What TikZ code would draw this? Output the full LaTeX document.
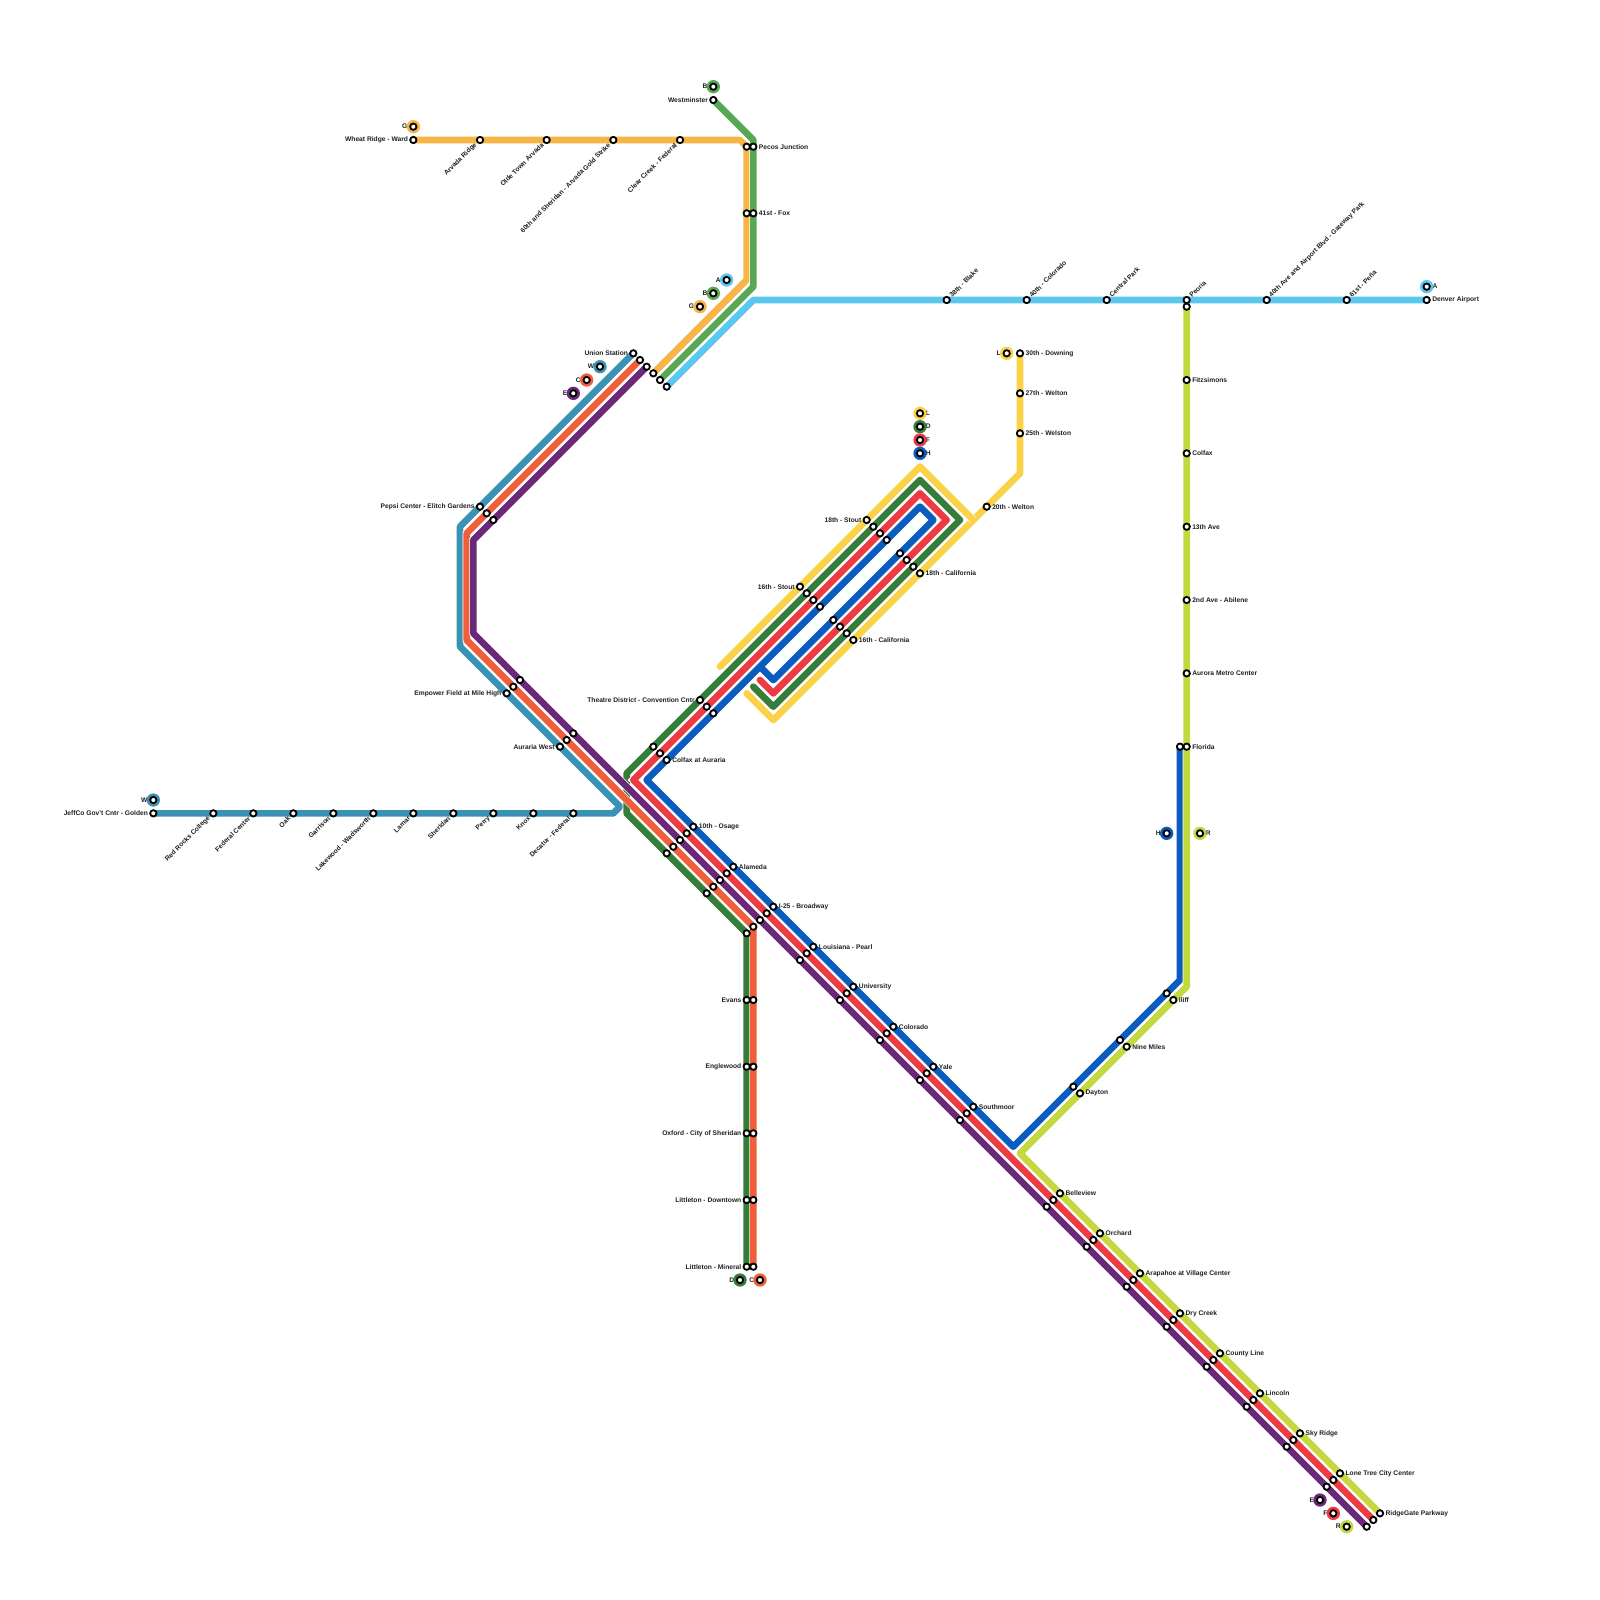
\documentclass[tikz,border=0pt]{standalone}
\usepackage{fontspec}
\setmainfont{Liberation Sans}
\usetikzlibrary{positioning,backgrounds}
\definecolor{lineW}{HTML}{3A93B5}
\definecolor{lineC}{HTML}{F15F3A}
\definecolor{lineE}{HTML}{6B2878}
\definecolor{lineG}{HTML}{F7B545}
\definecolor{lineB}{HTML}{57A853}
\definecolor{lineA}{HTML}{5AC8EE}
\definecolor{lineL}{HTML}{FBD145}
\definecolor{lineD}{HTML}{377D3A}
\definecolor{lineF}{HTML}{EE3B43}
\definecolor{lineH}{HTML}{0A5CBF}
\definecolor{lineR}{HTML}{C3D93D}
\tikzset{
  stn/.style={circle, draw=black, fill=white, line width=0.55mm, minimum size=1.9mm, inner sep=0pt},
  ring/.style={circle, fill=#1, minimum size=4mm, inner sep=0pt, outer sep=0pt},
  lbl/.style={font=\bfseries\fontsize{5.7}{6.8}\selectfont, text=black!88, inner sep=0pt},
  route/.style={line width=2mm, line join=round, line cap=round,
    preaction={draw=white, line width=2.4mm}}
}
\begin{document}
\begin{tikzpicture}[x=2mm, y=-2mm]
  \useasboundingbox (0,0) rectangle (240,240);
  % bends
  \foreach \nm/\x/\y in {wa/92/122, wb/93/121, wc/69/97, wd/69/79,
      ca/70/80, cb/70/96, cc/113/139,
      ea/71/81, eb/71/95,
      ga/111/21, gb/112/22, gc/112/42,
      ba/113/21, bb/113/43,
      aa/113/45,
      da/112/140, db/94/122, dc/94/116, dd/138/72, de/144/78, df/116/106, dg/113/103,
      fa/95/117, fb/138/74, fc/142/78, fd/116/104, fe/114/102,
      ha/177/147, hb/152/172, hc/97/117, hd/138/76, he/140/78, hf/116/102, hg/114/100,
      ra/178/148, rb/153/173,
      la/153/71, lb/116/108, lc/112/104, ld/146/78, le/138/70, lf/108/100}
    \coordinate (\nm) at (\x,\y);
  % stations, text to the right
  \foreach \nm/\x/\y/\txt in {pecos/113/22/Pecos Junction, fox/113/32/41st - Fox,
      colfaxaur/100/114/Colfax at Auraria, osage/104/124/10th - Osage,
      alameda/110/130/Alameda, broadway/116/136/I-25 - Broadway,
      pearl/122/142/Louisiana - Pearl, university/128/148/University,
      colorado/134/154/Colorado, yale/140/160/Yale, southmoor/146/166/Southmoor,
      belleview/159/179/Belleview, orchard/165/185/Orchard,
      arapahoe/171/191/Arapahoe at Village Center, drycreek/177/197/Dry Creek,
      countyline/183/203/County Line, lincoln/189/209/Lincoln, skyridge/195/215/Sky Ridge,
      lonetree/201/221/Lone Tree City Center, ridgegate/207/227/RidgeGate Parkway,
      denver/214/45/Denver Airport, downing/153/53/30th - Downing, welton/153/59/27th - Welton,
      welston/153/65/25th - Welston, twentieth/148/76/20th - Welton,
      calif18/138/86/18th - California, calif16/128/96/16th - California,
      fitzsimons/178/57/Fitzsimons, colfax/178/68/Colfax, ave13/178/79/13th Ave,
      ave2/178/90/2nd Ave - Abilene, aurora/178/101/Aurora Metro Center, florida/178/112/Florida,
      iliff/176/150/Iliff, ninemile/169/157/Nine Miles, dayton/162/164/Dayton} {
    \node[stn] (\nm) at (\x,\y) {};
    \node[lbl, right=1.1pt of \nm] (\nm-t) {\txt};
  }
  % stations, text to the left
  \foreach \nm/\x/\y/\txt in {westminster/107/15/Westminster, wheat/62/21/Wheat Ridge - Ward,
      union/95/53/Union Station, pepsi/72/76/Pepsi Center - Elitch Gardens,
      empower/76/104/Empower Field at Mile High, auraria/84/112/Auraria West,
      theatre/105/105/Theatre District - Convention Cntr, jeffco/23/122/JeffCo Gov't Cntr - Golden,
      stout18/130/78/18th - Stout, stout16/120/88/16th - Stout,
      evans/112/150/Evans, englewood/112/160/Englewood, oxford/112/170/Oxford - City of Sheridan,
      downtown/112/180/Littleton - Downtown, mineral/112/190/Littleton - Mineral} {
    \node[stn] (\nm) at (\x,\y) {};
    \node[lbl, left=0.9pt of \nm] (\nm-t) {\txt};
  }
  % stations, slanted text below them
  \foreach \nm/\x/\y/\txt in {arvada/72/21/Arvada Ridge, oldetown/82/21/Olde Town Arvada,
      sheridan60/92/21/60th and Sheridan - Arvada Gold Strike, clearcreek/102/21/Clear Creek - Federal,
      redrocks/32/122/Red Rocks College, federal/38/122/Federal Center, oak/44/122/Oak,
      garrison/50/122/Garrison, lakewood/56/122/Lakewood - Wadsworth, lamar/62/122/Lamar,
      sheridan/68/122/Sheridan, perry/74/122/Perry, knox/80/122/Knox, decatur/86/122/Decatur - Federal} {
    \node[stn] (\nm) at (\x,\y) {};
    \node[lbl, rotate=45, anchor=east] (\nm-t) at ([shift={(-.6,.6)}]\nm) {\txt};
  }
  % stations, slanted text above them
  \foreach \nm/\x/\y/\txt in {blake/142/45/38th - Blake, col40/154/45/40th - Colorado,
      central/166/45/Central Park, peoria/178/45/Peoria,
      airport/190/45/40th Ave and Airport Blvd - Gateway Park, pena/202/45/61st - Pe\~na} {
    \node[stn] (\nm) at (\x,\y) {};
    \node[lbl, rotate=45, anchor=west] (\nm-t) at ([shift={(.55,-.55)}]\nm) {\txt};
  }
  % stations without text
  \foreach \x/\y in {112/22, 112/32, 113/150, 113/160, 113/170, 113/180, 113/190,
      73/77, 74/78, 77/103, 78/102, 85/111, 86/110, 98/112, 99/113, 106/106, 107/107,
      131/79, 132/80, 133/81, 137/85, 136/84, 135/83,
      121/89, 122/90, 123/91, 127/95, 126/94, 125/93,
      103/125, 102/126, 101/127, 100/128, 109/131, 108/132, 107/133, 106/134,
      115/137, 114/138, 121/143, 120/144, 127/149, 126/150, 133/155, 132/156,
      139/161, 138/162, 145/167, 144/168, 158/180, 157/181, 164/186, 163/187,
      170/192, 169/193, 176/198, 175/199, 182/204, 181/205, 188/210, 187/211,
      194/216, 193/217, 200/222, 199/223,
      177/112, 175/149, 168/156, 161/163}
    \node[stn] (s\x-\y) at (\x,\y) {};
  \node[stn] (unionC) at (96,54) {};
  \node[stn] (unionE) at (97,55) {};
  \node[stn] (unionG) at (98,56) {};
  \node[stn] (unionB) at (99,57) {};
  \node[stn] (unionA) at (100,58) {};
  \node[stn] (broadwayC) at (113,139) {};
  \node[stn] (broadwayD) at (112,140) {};
  \node[stn] (ridgegateF) at (206,228) {};
  \node[stn] (ridgegateE) at (205,229) {};
  \node[stn] (peoriaR) at (178,46) {};
  % end markers
  \foreach \nm/\x/\y/\col/\txt in {wW/23/120/lineW/W, bB/107/13/lineB/B, gG/62/19/lineG/G,
      aA/109/42/lineA/A, bC/107/44/lineB/B, gH/105/46/lineG/G, wX/90/55/lineW/W, cC/88/57/lineC/C,
      eE/86/59/lineE/E, dD/111/192/lineD/D, cD/114/192/lineC/C, hH/175/125/lineH/H,
      eF/198/225/lineE/E, fF/200/227/lineF/F, rR/202/229/lineR/R, lL/151/53/lineL/L} {
    \node[lbl, anchor=east] (\nm-t) at ([xshift=-1.7mm]\x,\y) {\txt};
    \node[ring=\col] (\nm-r) at (\x,\y) {};
    \node[stn] (\nm) at (\x,\y) {};
  }
  \foreach \nm/\x/\y/\col/\txt in {aB/214/43/lineA/A, lM/138/62/lineL/L, dE/138/64/lineD/D,
      fG/138/66/lineF/F, hI/138/68/lineH/H, rS/180/125/lineR/R} {
    \node[lbl, anchor=west] (\nm-t) at ([xshift=1.7mm]\x,\y) {\txt};
    \node[ring=\col] (\nm-r) at (\x,\y) {};
    \node[stn] (\nm) at (\x,\y) {};
  }
  % routes
  \begin{scope}[on background layer]
    \draw[route, lineW] (jeffco.center) -- (wa) -- (wb) -- (wc) -- (wd) -- (union.center);
    \draw[route, lineG] (wheat.center) -- (ga) -- (gb) -- (gc) -- (unionG.center);
    \draw[route, lineB] (westminster.center) -- (ba) -- (bb) -- (unionB.center);
    \draw[route, lineA] (denver.center) -- (aa) -- (unionA.center);
    \draw[route, lineL] (downing.center) -- (la) -- (lb) -- (lc);
    \draw[route, lineL] (ld) -- (le) -- (lf);
    \draw[route, lineD] (mineral.center) -- (da) -- (db) -- (dc) -- (dd) -- (de) -- (df) -- (dg);
    \draw[route, lineF] (ridgegateF.center) -- (fa) -- (fb) -- (fc) -- (fd) -- (fe);
    \draw[route, lineH] (s177-112.center) -- (ha) -- (hb) -- (hc) -- (hd) -- (he) -- (hf) -- (hg);
    \draw[route, lineR] (peoriaR.center) -- (ra) -- (rb) -- (ridgegate.center);
    \draw[route, lineC] (unionC.center) -- (ca) -- (cb) -- (cc) -- (s113-190.center);
    \draw[route, lineE] (unionE.center) -- (ea) -- (eb) -- (ridgegateE.center);
  \end{scope}
\end{tikzpicture}
\end{document}
